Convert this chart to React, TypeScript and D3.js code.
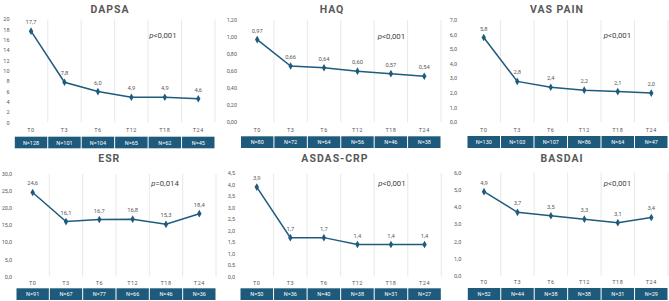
import React from "react";
import * as d3 from "d3";

const timepoints = ["T0", "T3", "T6", "T12", "T18", "T24"];

const dapsaValues = [17.7, 7.8, 6.0, 4.9, 4.9, 4.6];
const dapsaN = [128, 101, 104, 65, 62, 45];
const dapsaTicks = [0, 2, 4, 6, 8, 10, 12, 14, 16, 18, 20];

const haqValues = [0.97, 0.66, 0.64, 0.6, 0.57, 0.54];
const haqN = [80, 72, 64, 56, 46, 38];
const haqTicks = [0, 0.2, 0.4, 0.6, 0.8, 1.0, 1.2];

const vasValues = [5.8, 2.8, 2.4, 2.2, 2.1, 2.0];
const vasN = [130, 103, 107, 86, 64, 47];
const vasTicks = [0, 1, 2, 3, 4, 5, 6, 7];

const esrValues = [24.6, 16.1, 16.7, 16.8, 15.3, 18.4];
const esrN = [91, 67, 77, 66, 46, 36];
const esrTicks = [0, 5, 10, 15, 20, 25, 30];

const asdasValues = [3.9, 1.7, 1.7, 1.4, 1.4, 1.4];
const asdasN = [50, 36, 40, 38, 31, 27];
const asdasTicks = [0, 0.5, 1, 1.5, 2, 2.5, 3, 3.5, 4, 4.5];

const basdaiValues = [4.9, 3.7, 3.5, 3.3, 3.1, 3.4];
const basdaiN = [52, 44, 38, 38, 31, 29];
const basdaiTicks = [0, 1, 2, 3, 4, 5, 6];

const titles = ["DAPSA", "HAQ", "VAS PAIN", "ESR", "ASDAS-CRP", "BASDAI"];
const pValues = ["<0,001", "<0,001", "<0,001", "=0,014", "<0,001", "<0,001"];

const LINE = "#1f5b7e";
const BOX = "#1d5a7b";
const TEXT = "#595959";
const PTEXT = "#404040";
const GRID = "#e3e3e3";
const FONT = "Roboto, 'Noto Sans', sans-serif";

type Layout = {
  left: number; right: number; top: number; bottom: number;
  yLabelX: number; titleX: number; titleY: number;
  pX: number; pY: number; tY: number; boxTop: number; boxBottom: number;
};

const layouts: Layout[] = [
  { left: 14.3, right: 215, top: 19.3, bottom: 122.5, yLabelX: 9.5, titleX: 110, titleY: 13, pX: 163, pY: 38, tY: 131.5, boxTop: 136.7, boxBottom: 148.3 },
  { left: 240.5, right: 441, top: 20, bottom: 122.3, yLabelX: 237, titleX: 332, titleY: 13, pX: 391.5, pY: 39, tY: 131.5, boxTop: 136.3, boxBottom: 148 },
  { left: 467, right: 668, top: 20, bottom: 122.3, yLabelX: 457, titleX: 557, titleY: 13, pX: 617.5, pY: 38, tY: 131.5, boxTop: 136, boxBottom: 148 },
  { left: 16, right: 216, top: 174, bottom: 276.7, yLabelX: 12, titleX: 109.3, titleY: 162, pX: 165, pY: 186, tY: 284.7, boxTop: 288.3, boxBottom: 300 },
  { left: 240, right: 441.3, top: 173.3, bottom: 276.7, yLabelX: 235, titleX: 335, titleY: 162, pX: 392, pY: 186, tY: 284.7, boxTop: 288.3, boxBottom: 300 },
  { left: 467.3, right: 668, top: 172.7, bottom: 276, yLabelX: 461.3, titleX: 562, titleY: 162, pX: 617.5, pY: 186, tY: 284, boxTop: 288, boxBottom: 300 },
];

const fmt1 = (v: number) => v.toFixed(1).replace(".", ",");
const fmt2 = (v: number) => v.toFixed(2).replace(".", ",");

const panelData = [
  { values: dapsaValues, n: dapsaN, ticks: dapsaTicks, tickFmt: (v: number) => String(v), valFmt: fmt1 },
  { values: haqValues, n: haqN, ticks: haqTicks, tickFmt: fmt2, valFmt: fmt2 },
  { values: vasValues, n: vasN, ticks: vasTicks, tickFmt: fmt1, valFmt: fmt1 },
  { values: esrValues, n: esrN, ticks: esrTicks, tickFmt: fmt1, valFmt: fmt1 },
  { values: asdasValues, n: asdasN, ticks: asdasTicks, tickFmt: fmt1, valFmt: fmt1 },
  { values: basdaiValues, n: basdaiN, ticks: basdaiTicks, tickFmt: fmt1, valFmt: fmt1 },
];

function Panel({ idx }: { idx: number }) {
  const L = layouts[idx];
  const D = panelData[idx];
  const x = d3.scaleBand<string>().domain(timepoints).range([L.left, L.right]);
  const maxTick = D.ticks[D.ticks.length - 1];
  const y = d3.scaleLinear().domain([0, maxTick]).range([L.bottom, L.top]);
  const cx = (t: string) => (x(t) as number) + x.bandwidth() / 2;
  const line = d3.line<number>().x((_, i) => cx(timepoints[i])).y((v) => y(v));
  const marker = d3.symbol().type(d3.symbolDiamond).size(17)() as string;
  return (
    <g>
      <text x={L.titleX} y={L.titleY} textAnchor="middle" fontSize={10.5} fontWeight="bold" letterSpacing={1} fill={TEXT} fontFamily={FONT}>
        {titles[idx]}
      </text>
      {timepoints.map((t) => (
        <line key={"g" + t} x1={(x(t) as number) + x.bandwidth()} x2={(x(t) as number) + x.bandwidth()} y1={L.top} y2={L.bottom} stroke={GRID} strokeWidth={0.8} />
      ))}
      {D.ticks.map((tv) => (
        <text key={"y" + tv} x={L.yLabelX} y={y(tv) + 2} textAnchor="end" fontSize={5.5} fill={TEXT} fontFamily={FONT}>
          {D.tickFmt(tv)}
        </text>
      ))}
      {timepoints.map((t) => (
        <text key={"t" + t} x={cx(t)} y={L.tY} textAnchor="middle" fontSize={5.5} letterSpacing={0.5} fill={TEXT} fontFamily={FONT}>
          {t}
        </text>
      ))}
      <path d={line(D.values) as string} fill="none" stroke={LINE} strokeWidth={1.5} />
      {D.values.map((v, i) => (
        <g key={"m" + i}>
          <path d={marker} transform={`translate(${cx(timepoints[i])},${y(v)})`} fill={LINE} />
          <text x={cx(timepoints[i])} y={y(v) - 7} textAnchor="middle" fontSize={5.8} fill={TEXT} fontFamily={FONT}>
            {D.valFmt(v)}
          </text>
        </g>
      ))}
      <text x={L.pX} y={L.pY} textAnchor="middle" fontSize={7.8} fill={PTEXT} fontFamily={FONT}>
        <tspan fontStyle="italic">p</tspan>
        {pValues[idx]}
      </text>
      {timepoints.map((t, i) => (
        <g key={"n" + t}>
          <rect x={(x(t) as number) + 0.5} y={L.boxTop} width={x.bandwidth() - 1} height={L.boxBottom - L.boxTop} fill={BOX} />
          <text x={cx(t)} y={(L.boxTop + L.boxBottom) / 2 + 2} textAnchor="middle" fontSize={5.5} fill="#ffffff" fontFamily={FONT}>
            {"N=" + D.n[i]}
          </text>
        </g>
      ))}
    </g>
  );
}

export default function App() {
  return (
    <svg width={669} height={301} style={{ position: "absolute", left: 0, top: 0, background: "#ffffff" }}>
      <rect x={0} y={0} width={669} height={301} fill="#ffffff" />
      {layouts.map((_, i) => (
        <Panel key={i} idx={i} />
      ))}
    </svg>
  );
}
